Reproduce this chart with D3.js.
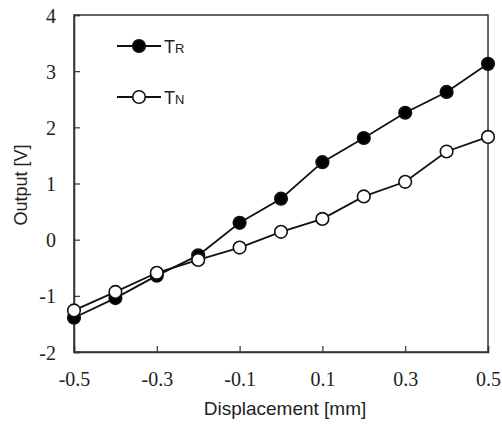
<!DOCTYPE html>
<html>
<head>
<meta charset="utf-8">
<script src="https://cdn.jsdelivr.net/npm/d3@7"></script>
<style>
  body { margin: 0; background: #fff; }
</style>
</head>
<body>
<div id="chart"></div>
<script>
// Data
const displacement = [-0.5, -0.4, -0.3, -0.2, -0.1, 0, 0.1, 0.2, 0.3, 0.4, 0.5];
const outputTR = [-1.39, -1.04, -0.64, -0.28, 0.30, 0.73, 1.38, 1.81, 2.26, 2.63, 3.13];
const outputTN = [-1.26, -0.93, -0.59, -0.36, -0.14, 0.14, 0.37, 0.77, 1.03, 1.57, 1.83];
const xTicks = [-0.5, -0.3, -0.1, 0.1, 0.3, 0.5];
const yTicks = [-2, -1, 0, 1, 2, 3, 4];

const svgWidth = 502;
const svgHeight = 424;
const margin = { top: 15, right: 14, bottom: 72, left: 74 };
const width = svgWidth - margin.left - margin.right;
const height = svgHeight - margin.top - margin.bottom;

const serif = "Liberation Serif, Times New Roman, serif";
const sans = "Liberation Sans, Arial, sans-serif";

const svg = d3.select("#chart")
  .append("svg")
  .attr("width", svgWidth)
  .attr("height", svgHeight);

const chartGroup = svg.append("g")
  .attr("transform", `translate(${margin.left}, ${margin.top})`);

const x = d3.scaleLinear().domain([-0.5, 0.5]).range([0, width]);
const y = d3.scaleLinear().domain([-2, 4]).range([height, 0]);

// frame
chartGroup.append("rect")
  .attr("width", width)
  .attr("height", height)
  .attr("fill", "none")
  .attr("stroke", "#333")
  .attr("stroke-width", 1.5);

// axes with inward ticks
const bottomAxis = d3.axisBottom(x).tickValues(xTicks).tickSize(-6).tickPadding(20)
  .tickFormat(d => d3.format(".1f")(d).replace("−", "-"));
const leftAxis = d3.axisLeft(y).tickValues(yTicks).tickSize(-6).tickPadding(18)
  .tickFormat(d => String(d));

const xAxis = chartGroup.append("g")
  .attr("transform", `translate(0, ${height})`)
  .call(bottomAxis);
const yAxis = chartGroup.append("g").call(leftAxis);

[xAxis, yAxis].forEach(g => {
  g.attr("font-family", serif).attr("font-size", 20);
  g.select(".domain").attr("stroke", "#333").attr("stroke-width", 1.5);
  g.selectAll(".tick line").attr("stroke", "#333").attr("stroke-width", 1.2);
  g.selectAll(".tick text").attr("fill", "#222");
});
yAxis.selectAll(".tick text").attr("dy", "0.35em");

// axis titles
svg.append("text")
  .attr("x", margin.left + width / 2 + 4)
  .attr("y", 415)
  .attr("text-anchor", "middle")
  .attr("font-family", sans)
  .attr("font-size", 19)
  .attr("fill", "#222")
  .text("Displacement [mm]");

svg.append("text")
  .attr("transform", `translate(27, 185) rotate(-90)`)
  .attr("text-anchor", "middle")
  .attr("font-family", sans)
  .attr("font-size", 18)
  .attr("fill", "#222")
  .text("Output [V]");

// series
const line = d3.line()
  .x((d, i) => x(displacement[i]))
  .y(d => y(d));

const series = [
  { name: "R", values: outputTR, fill: "#000" },
  { name: "N", values: outputTN, fill: "#fff" }
];

// lines first, then markers so the open circles sit on top
series.forEach(s => {
  chartGroup.append("path")
    .datum(s.values)
    .attr("d", line)
    .attr("fill", "none")
    .attr("stroke", "#111")
    .attr("stroke-width", 1.8);
});
series.forEach(s => {
  chartGroup.selectAll(null)
    .data(s.values)
    .enter()
    .append("circle")
    .attr("cx", (d, i) => x(displacement[i]))
    .attr("cy", d => y(d))
    .attr("r", 6.3)
    .attr("fill", s.fill)
    .attr("stroke", "#111")
    .attr("stroke-width", 1.6);
});

// legend
const legendY = [46, 97];
series.forEach((s, i) => {
  const g = svg.append("g").attr("transform", `translate(117, ${legendY[i]})`);
  g.append("line")
    .attr("x1", 0).attr("x2", 44)
    .attr("stroke", "#111").attr("stroke-width", 1.8);
  g.append("circle")
    .attr("cx", 22).attr("r", 6.3)
    .attr("fill", s.fill).attr("stroke", "#111").attr("stroke-width", 1.6);
  const t = g.append("text")
    .attr("x", 47).attr("y", 6.5)
    .attr("font-family", sans)
    .attr("font-size", 18)
    .attr("fill", "#222");
  t.append("tspan").text("T");
  t.append("tspan").attr("font-size", 13).text(s.name);
});
</script>
</body>
</html>
